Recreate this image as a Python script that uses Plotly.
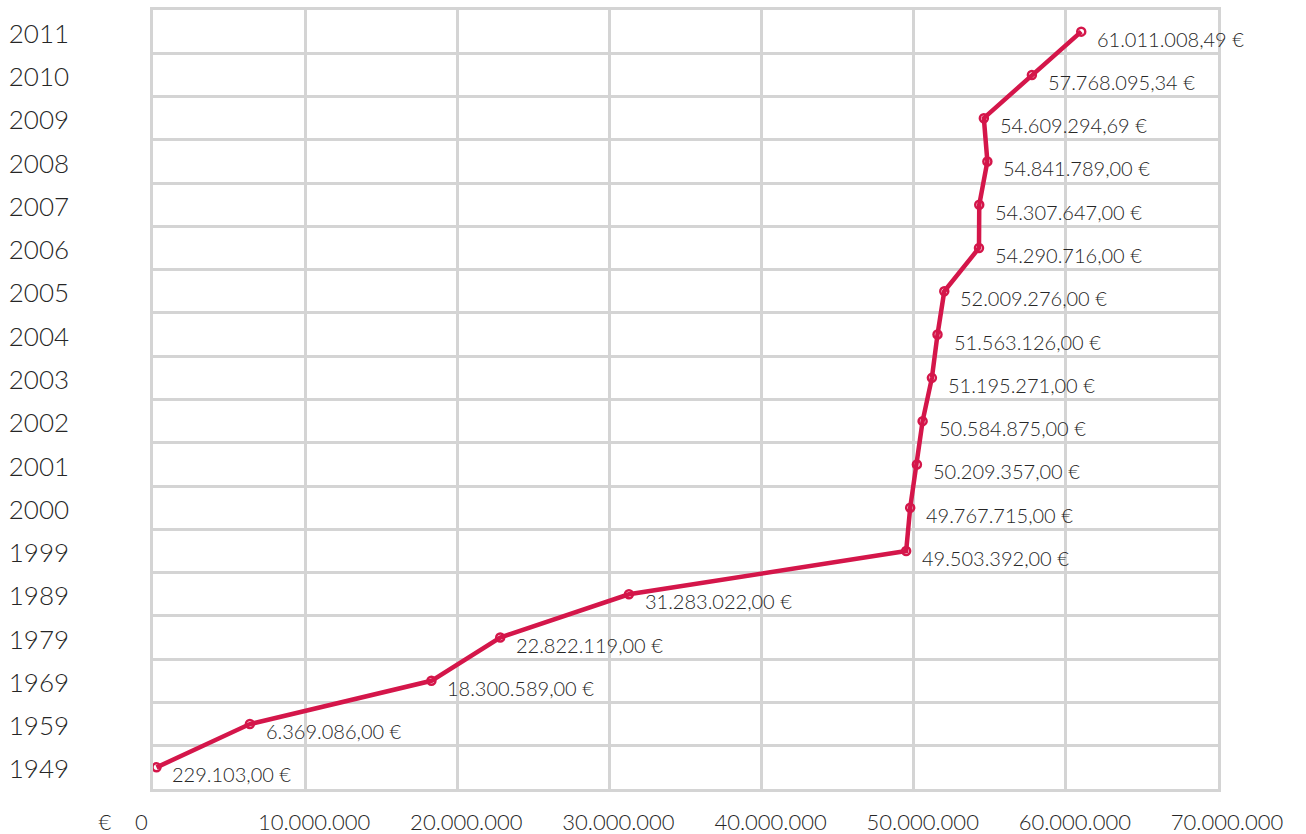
import plotly.graph_objects as go

years = ["1949", "1959", "1969", "1979", "1989", "1999", "2000", "2001", "2002",
         "2003", "2004", "2005", "2006", "2007", "2008", "2009", "2010", "2011"]
values = [229103.00, 6369086.00, 18300589.00, 22822119.00, 31283022.00,
          49503392.00, 49767715.00, 50209357.00, 50584875.00, 51195271.00,
          51563126.00, 52009276.00, 54290716.00, 54307647.00, 54841789.00,
          54609294.69, 57768095.34, 61011008.49]
x_ticks = [0, 10000000, 20000000, 30000000, 40000000, 50000000, 60000000, 70000000]
x_tick_labels = ["€\u00a0\u00a0\u00a0\u00a00" + "\u00a0" * 13, "10.000.000", "20.000.000",
                 "30.000.000", "40.000.000", "50.000.000", "60.000.000", "70.000.000"]

LINE = "#d4164a"
GRID = "#d4d4d4"
TEXT = "#262626"
FONT = "Lato"
W = 300


def fmt(v):
    s = f"{v:,.2f}"
    s = s.replace(",", "X").replace(".", ",").replace("X", ".")
    return s + " €"


fig = go.Figure()
fig.add_trace(go.Scatter(
    x=values, y=years, mode="lines+markers",
    line=dict(color=LINE, width=4.5),
    marker=dict(symbol="circle-open", size=8, color=LINE, line=dict(width=2.5, color=LINE)),
    hoverinfo="skip", showlegend=False,
))

for i, v in enumerate(values):
    fig.add_annotation(x=v, y=i, xref="x", yref="y", text=fmt(v), showarrow=False,
                       xanchor="left", yanchor="middle", xshift=14, yshift=-7,
                       font=dict(family=FONT, size=20, color=TEXT, weight=W))

fig.update_layout(
    width=1306, height=834,
    margin=dict(l=153, r=88, t=10, b=45),
    paper_bgcolor="white", plot_bgcolor="white",
    font=dict(family=FONT, color=TEXT),
)
fig.update_xaxes(
    range=[0, 70000000], tickvals=x_ticks, ticktext=x_tick_labels,
    showgrid=True, gridcolor=GRID, gridwidth=2.5,
    showline=True, linecolor=GRID, linewidth=2.5, mirror=True,
    zeroline=False, ticks="", tickfont=dict(family=FONT, size=22, color=TEXT, weight=W),
    ticklabelstandoff=12, ticklabelshift=9, automargin=False,
)
fig.update_yaxes(
    type="category", categoryorder="array", categoryarray=years,
    range=[-0.5, 17.5], tickson="boundaries",
    showgrid=True, gridcolor=GRID, gridwidth=2.5,
    showline=True, linecolor=GRID, linewidth=2.5, mirror=True,
    zeroline=False, ticks="", tickfont=dict(family=FONT, size=26, color=TEXT, weight=W),
    ticklabelstandoff=76, ticklabelshift=2, automargin=False,
)

fig.write_html("out.html")
